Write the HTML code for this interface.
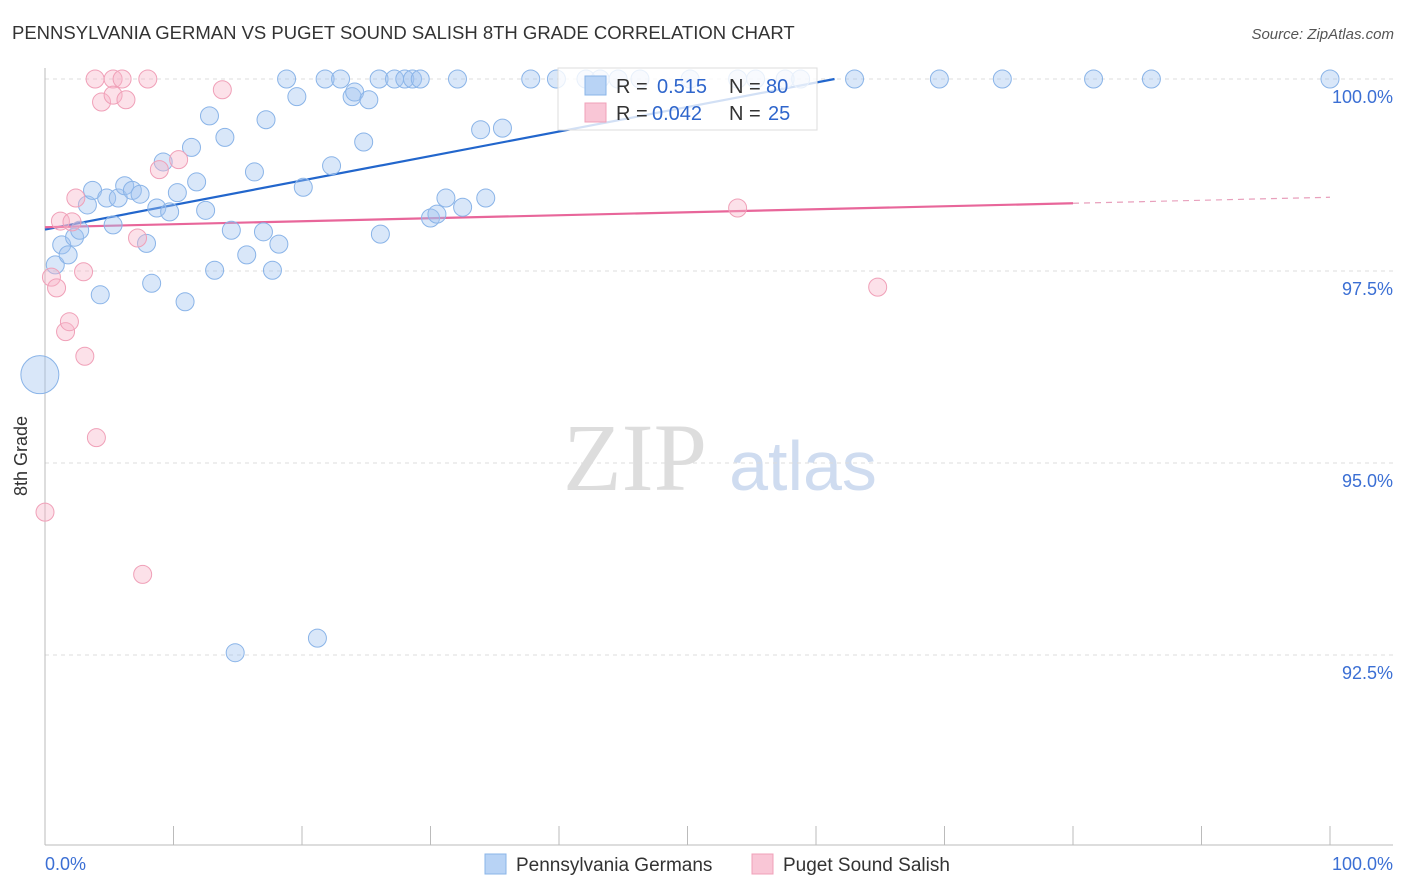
<!DOCTYPE html>
<html><head><meta charset="utf-8"><style>
body{margin:0;background:#fff;font-family:"Liberation Sans",sans-serif;}
svg{display:block}
</style></head><body>
<svg id="chart" width="1406" height="892">
<text x="12" y="39" font-size="18.5" fill="#333">PENNSYLVANIA GERMAN VS PUGET SOUND SALISH 8TH GRADE CORRELATION CHART</text>
<text x="1394" y="39" font-size="15" fill="#555" font-style="italic" text-anchor="end">Source: ZipAtlas.com</text>
<text x="27" y="456" font-size="18" fill="#333" text-anchor="middle" transform="rotate(-90 27 456)">8th Grade</text>
<g><text x="635" y="490" font-size="96" fill="#ddd" text-anchor="middle" font-family="Liberation Serif,serif">ZIP</text><text x="803" y="490" font-size="70" fill="#cfdcf0" text-anchor="middle">atlas</text></g>
<g id="grid"></g><g id="axes"></g><g id="lines"></g><g id="points"></g>
<g>
<rect x="558" y="68" width="259" height="62" fill="#fff" fill-opacity="0.8" stroke="#ddd"/>
<rect x="585" y="76" width="21" height="19" fill="#b8d3f5" stroke="#8ab4e8"/>
<text x="616" y="93" font-size="20" fill="#333">R =</text>
<text x="657" y="93" font-size="20" fill="#2f66cc">0.515</text>
<text x="729" y="93" font-size="20" fill="#333">N =</text>
<text x="766" y="93" font-size="20" fill="#2f66cc">80</text>
<rect x="585" y="103" width="21" height="19" fill="#f9c6d6" stroke="#f0a0b8"/>
<text x="616" y="120" font-size="20" fill="#333">R =</text>
<text x="652" y="120" font-size="20" fill="#2f66cc">0.042</text>
<text x="729" y="120" font-size="20" fill="#333">N =</text>
<text x="768" y="120" font-size="20" fill="#2f66cc">25</text>
</g>
<g>
<rect x="485" y="854" width="21" height="20" fill="#b8d3f5" stroke="#8ab4e8"/>
<text x="516" y="871" font-size="19" fill="#333">Pennsylvania Germans</text>
<rect x="752" y="854" width="21" height="20" fill="#f9c6d6" stroke="#f0a0b8"/>
<text x="783" y="871" font-size="19" fill="#333">Puget Sound Salish</text>
</g>
</svg>
<script>
const blueX=[-0.4,0.8,1.3,1.8,2.3,2.7,3.3,3.7,4.3,4.8,5.3,5.7,6.2,6.8,7.4,7.9,8.3,8.7,9.2,9.7,10.3,10.9,11.4,11.8,12.5,12.8,13.2,14.0,14.5,14.8,15.7,16.3,17.0,17.2,17.7,18.2,18.8,19.6,20.1,21.2,21.8,22.3,23.0,23.9,24.1,24.8,25.2,26.0,26.1,27.2,28.0,28.6,29.2,30.0,30.5,31.2,32.1,32.5,33.9,34.3,35.6,37.8,39.8,42.1,43.2,44.6,46.3,50.2,53.9,55.3,57.6,58.8,63.0,69.6,74.5,81.6,86.1,100];
const blueY=[96.15,97.58,97.84,97.71,97.94,98.03,98.36,98.55,97.19,98.45,98.10,98.45,98.61,98.55,98.50,97.86,97.34,98.32,98.92,98.27,98.52,97.10,99.11,98.66,98.29,99.52,97.51,99.24,98.03,92.53,97.71,98.79,98.01,99.47,97.51,97.85,100,99.77,98.59,92.72,100,98.87,100,99.77,99.83,99.18,99.73,100,97.98,100,100,100,100,98.19,98.24,98.45,100,98.33,99.34,98.45,99.36,100,100,100,100,100,100,100,100,100,100,100,100,100,100,100,100,100];
const pinkX=[0,0.5,0.9,1.2,1.6,1.9,2.1,2.4,3.0,3.1,3.9,4.0,4.4,5.3,5.3,6.0,6.3,7.2,7.6,8.0,8.9,10.4,13.8,53.9,64.8];
const pinkY=[94.36,97.42,97.28,98.15,96.71,96.84,98.14,98.45,97.49,96.39,100,95.33,99.70,100,99.79,100,99.73,97.93,93.55,100,98.82,98.95,99.86,98.32,97.29];
const blueTrend=[98.04,101.23];
const pinkTrend=[98.07,98.46];
const yTicks=[100,97.5,95,92.5];
const yTickLabels=["100.0%","97.5%","95.0%","92.5%"];
const xTicks=[0,10,20,30,40,50,60,70,80,90,100];
const NS="http://www.w3.org/2000/svg";
const X=v=>45+v*12.85, Y=v=>79+(100-v)*76.8;
function mk(t,a,p){const e=document.createElementNS(NS,t);for(const k in a)e.setAttribute(k,a[k]);p.appendChild(e);return e;}
const grid=document.getElementById('grid'),axes=document.getElementById('axes'),lines=document.getElementById('lines'),pts=document.getElementById('points');
yTicks.forEach((t,i)=>{
 const l=mk('line',{x1:45,x2:1393,y1:Y(t),y2:Y(t),stroke:'#ddd','stroke-dasharray':'4,4'},grid);
 
 
 const tx=mk('text',{x:1393,y:Y(t)+24,'font-size':18,fill:'#3b6fd4','text-anchor':'end'},axes);
 tx.textContent=yTickLabels[i];
 
 
});
const ya=mk('line',{x1:45,x2:45,y1:68,y2:845,stroke:'#bbb'},axes);


const xa=mk('line',{x1:45,x2:1393,y1:845,y2:845,stroke:'#bbb'},axes);


xTicks.forEach(t=>{
 const l=mk('line',{x1:X(t),x2:X(t),y1:826,y2:845,stroke:'#bbb'},axes);
 
 
});
[[0,'0.0%','start',45],[100,'100.0%','end',1393]].forEach(a=>{
 const tx=mk('text',{x:a[3],y:870,'font-size':18,fill:'#3b6fd4','text-anchor':a[2]},axes);
 tx.textContent=a[1];
 
 
});
const bx100=(100-blueTrend[0])/((blueTrend[1]-blueTrend[0])/100);
const bxe=Math.min(100,bx100);
const bl=mk('line',{x1:X(0),y1:Y(blueTrend[0]),x2:X(bxe),y2:Y(blueTrend[0]+(blueTrend[1]-blueTrend[0])*bxe/100),stroke:'#2266cc','stroke-width':2.2},lines);


const pAt=x=>pinkTrend[0]+(pinkTrend[1]-pinkTrend[0])*x/100;
const pl=mk('line',{x1:X(0),y1:Y(pAt(0)),x2:X(80),y2:Y(pAt(80)),stroke:'#e8669a','stroke-width':2.2},lines);


const pd=mk('line',{x1:X(80),y1:Y(pAt(80)),x2:X(100),y2:Y(pAt(100)),stroke:'#e8a0bc','stroke-width':1.2,'stroke-dasharray':'6,5'},lines);


blueX.forEach((x,i)=>{
 const c=mk('circle',{cx:X(x),cy:Y(blueY[i]),r:i===0?19:9,fill:'rgba(160,196,240,0.4)',stroke:'#8ab4e8','stroke-width':1},pts);
 
 
});
pinkX.forEach((x,i)=>{
 const c=mk('circle',{cx:X(x),cy:Y(pinkY[i]),r:9,fill:'rgba(248,180,200,0.4)',stroke:'#f0a0b8','stroke-width':1},pts);
 
 
});
</script>
</body></html>
